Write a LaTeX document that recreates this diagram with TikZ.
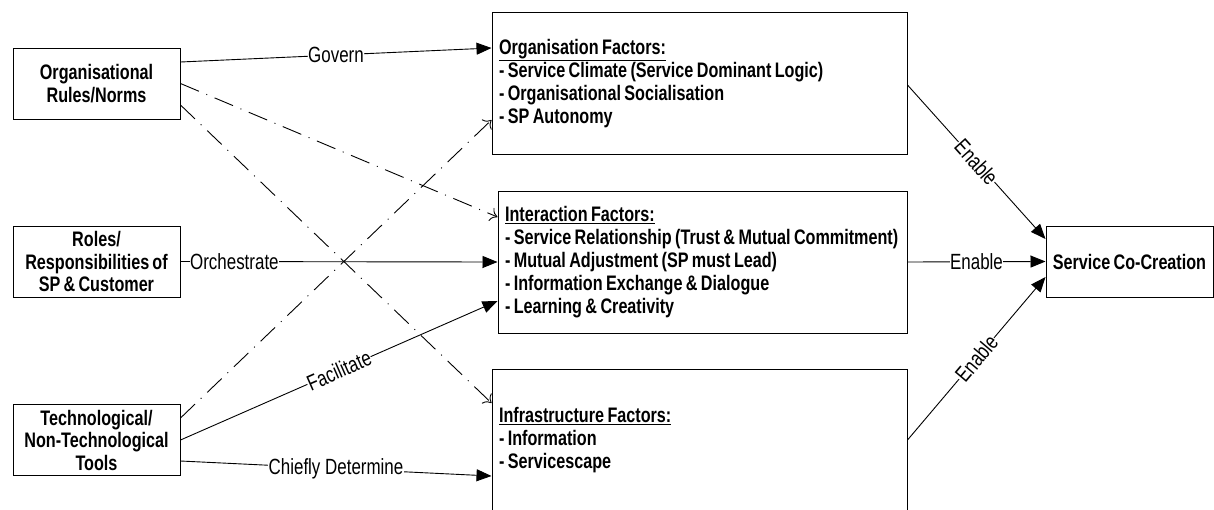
\documentclass[tikz,border=0pt]{standalone}
\usepackage{fontspec}
\setmainfont[FakeStretch=0.77]{Liberation Sans}
\usetikzlibrary{arrows.meta}
\newcommand\tightsp{\fontdimen2\font=3.2pt\relax}
\newcommand\sk{\spaceskip=3.4pt plus 1pt minus 0.5pt\relax\hyphenpenalty=10000\relax}
\tikzset{
  srcbox/.style={draw, line width=1pt, minimum width=167pt, minimum height=71pt, align=center, inner sep=0pt, font=\fontsize{21}{22.5}\selectfont\bfseries\tightsp},
  factbox/.style={draw, line width=1pt, minimum height=142pt, align=left, inner ysep=0pt, font=\fontsize{21}{23}\selectfont\bfseries\tightsp},
  solidarr/.style={line width=0.9pt, -{Triangle[length=15pt,width=12pt]}},
  dasharr/.style={line width=0.9pt, dash pattern=on 20pt off 8pt on 1pt off 8pt, -{To[length=7pt,width=14pt]}},
  lbl/.style={fill=white, inner sep=0.5pt, font=\fontsize{22}{24}\selectfont, pos=0.5}
}
\begin{document}
\begin{tikzpicture}[x=1pt,y=-1pt]
\useasboundingbox (0,0) rectangle (1214,509);
\node[srcbox] (rules) at (96.5,83.5) {Organisational\\Rules/Norms};
\node[srcbox] (roles) at (96.5,261.5) {Roles/\\Responsibilities of\\SP \& Customer};
\node[srcbox] (tools) at (96.5,440) {Technological/\\Non-Technological\\Tools};

\node[factbox, minimum width=415pt, text width=401pt, inner xsep=7pt] (orgf) at (699.5,83.5)
 {\sk\underline{Organisation Factors:}\\- Service Climate (Service Dominant Logic)\\- Organisational Socialisation\\- SP Autonomy};
\node[factbox, minimum width=409pt, text width=395pt, inner xsep=7pt] (interf) at (702.5,262)
 {\sk\underline{Interaction Factors:}\\- Service Relationship (Trust \& Mutual Commitment)\\- Mutual Adjustment (SP must Lead)\\- Information Exchange \& Dialogue\\- Learning \& Creativity};
\node[factbox, minimum width=415pt, text width=401pt, inner xsep=7pt] (infra) at (699.5,440)
 {\sk\underline{Infrastructure Factors:}\\- Information\\- Servicescape};

\node[srcbox] (scc) at (1129.5,261.5) {Service Co-Creation};

\draw[solidarr] ([yshift=21.5pt]rules.east) -- node[lbl]{Govern} ([yshift=35.5pt]orgf.west);
\draw[dasharr] (rules.east) -- ([yshift=45pt]interf.west);
\draw[dasharr] ([yshift=-21.5pt]rules.east) -- ([yshift=37pt]infra.west);
\draw[dasharr] ([yshift=22pt]tools.east) -- ([yshift=-36.5pt]orgf.west);
\draw[solidarr] (roles.east) -- node[lbl, pos=0.17]{Orchestrate} (interf.west);
\draw[solidarr] (tools.east) -- node[lbl, sloped]{Facilitate} ([yshift=-39pt]interf.west);
\draw[solidarr] ([yshift=-21pt]tools.east) -- node[lbl]{Chiefly Determine} ([yshift=-36pt]infra.west);
\draw[solidarr] ([yshift=-1.5pt]orgf.east) -- node[lbl, sloped]{Enable} ([yshift=22.5pt]scc.west);
\draw[solidarr] (interf.east) -- node[lbl]{Enable} (scc.west);
\draw[solidarr] (infra.east) -- node[lbl, sloped]{Enable} ([yshift=-15.5pt]scc.west);
\end{tikzpicture}
\end{document}
